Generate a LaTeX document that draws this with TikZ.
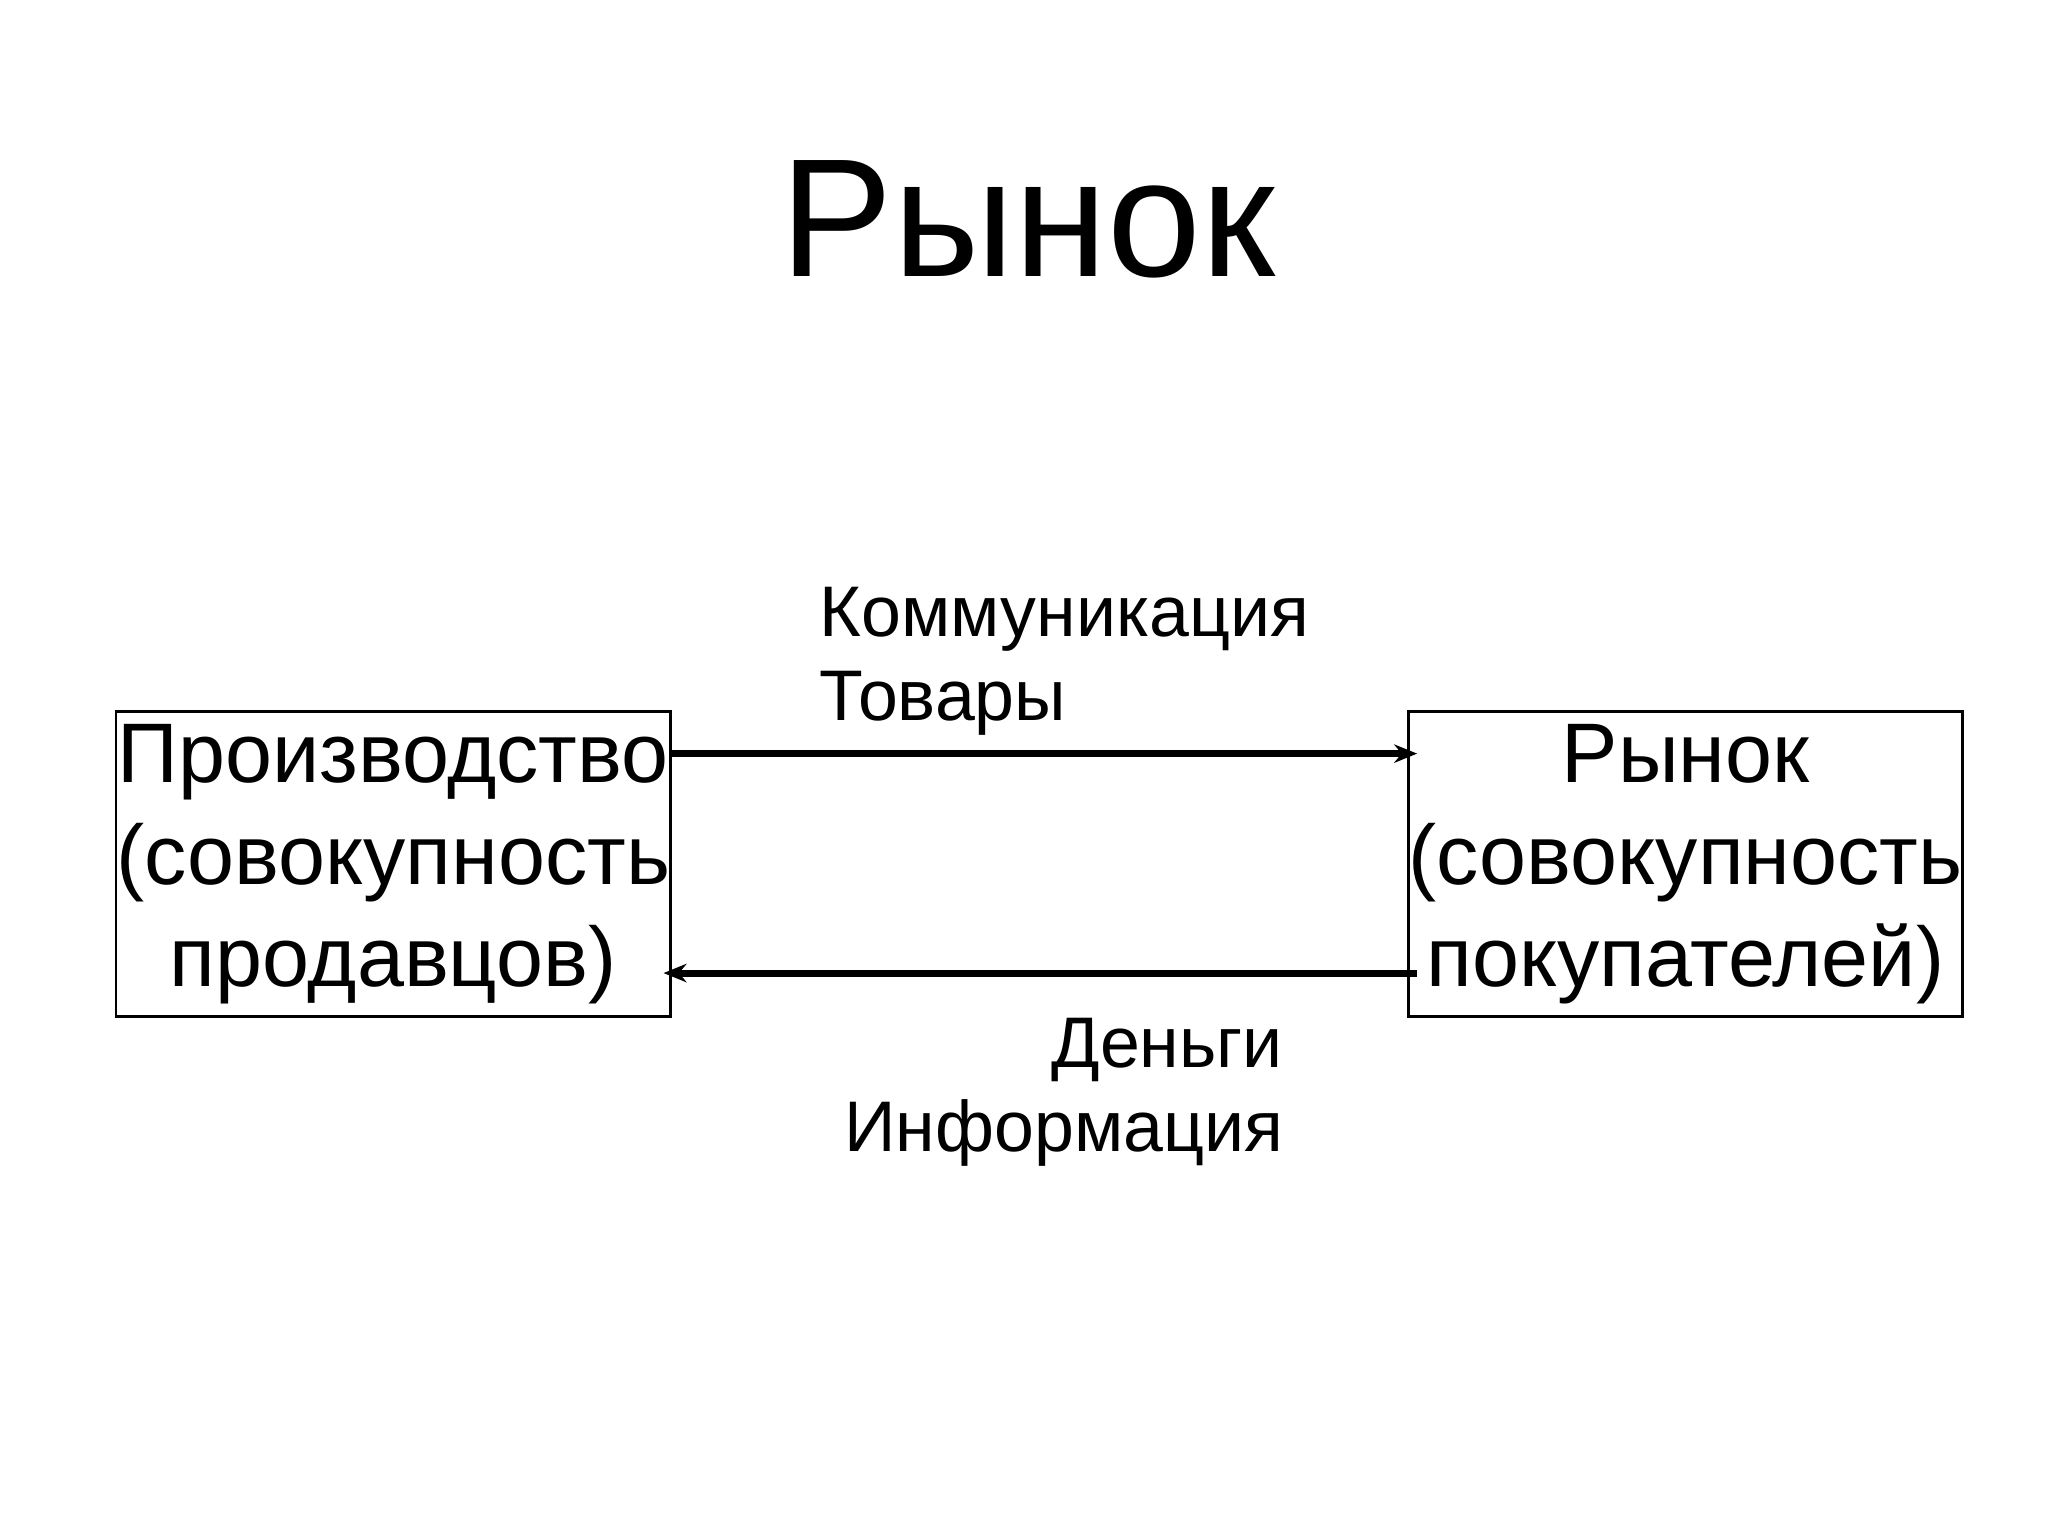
\documentclass[tikz,border=0pt]{standalone}
\usepackage{fontspec}
\setmainfont{Liberation Sans}
\usetikzlibrary{arrows.meta}
\begin{document}
\begin{tikzpicture}[x=0.01cm,y=-0.01cm,
  box/.style={draw,line width=0.6pt,minimum width=4.24cm,minimum height=2.33cm,inner sep=0pt,align=center,font=\fontsize{18.4}{22.2}\selectfont},
  lbl/.style={inner sep=0pt,font=\fontsize{15.6}{18.3}\selectfont},
  arr/.style={line width=1.5pt,-{Stealth[length=5pt,width=4pt]}}]
\useasboundingbox (0,0) rectangle (1568,1176);
\node[inner sep=0pt,font=\fontsize{36.7}{40}\selectfont] (title) at (787,168) {Рынок};
\node[box] (prod) at (301,661.5) {Производство\\(совокупность\\продавцов)};
\node[box] (mkt) at (1290.5,661.5) {Рынок\\(совокупность\\покупателей)};
\coordinate (a1) at (513,577);
\coordinate (a2) at (1085,577);
\coordinate (b1) at (1085,745);
\coordinate (b2) at (508,745);
\draw[arr] (a1) -- (a2);
\draw[arr] (b1) -- (b2);
\node[lbl,anchor=base west,align=left] (top) at (627,552) {Коммуникация\\Товары};
\node[lbl,anchor=base east,align=right] (bot) at (983,882) {Деньги\\Информация};
\end{tikzpicture}
\end{document}
